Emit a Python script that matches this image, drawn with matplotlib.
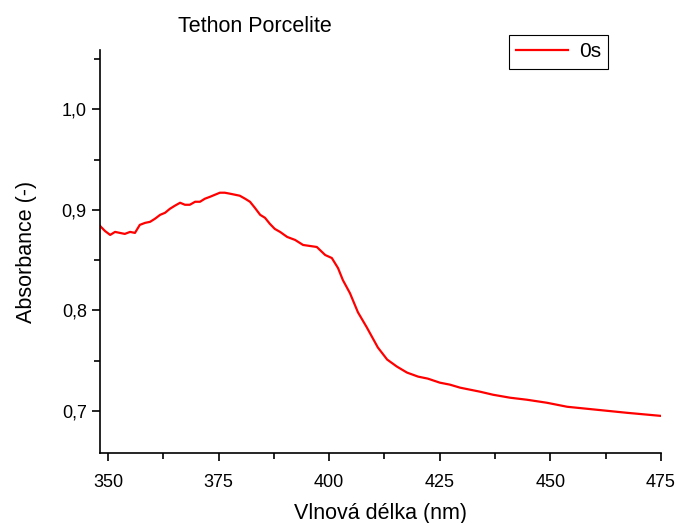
import matplotlib

matplotlib.use("Agg")
import matplotlib.pyplot as plt
from matplotlib.ticker import FuncFormatter, MultipleLocator

plt.rcParams["font.family"] = ["Liberation Sans", "DejaVu Sans"]

# spectrum
wavelength = [
    348.2, 349.3, 350.5, 351.6, 352.7, 353.8, 355.0, 356.1, 357.2, 358.4,
    359.5, 360.6, 361.8, 362.9, 364.0, 365.1, 366.3, 367.4, 368.5, 369.7,
    370.8, 371.9, 373.1, 374.2, 375.3, 376.4, 377.6, 378.7, 379.8, 381.0,
    382.1, 383.2, 384.4, 385.5, 386.6, 387.7, 388.9, 390.5, 392.3, 394.1,
    397.2, 399.1, 400.6, 402.0, 403.1, 404.7, 406.5, 408.5, 411.0, 413.1,
    415.3, 417.6, 420.1, 422.3, 425.0, 427.3, 429.6, 434.1, 437.0, 440.9,
    444.7, 449.2, 453.8, 458.3, 462.8, 467.3, 474.8,
]
absorbance = [
    0.884, 0.879, 0.875, 0.878, 0.877, 0.876, 0.878, 0.877, 0.885, 0.887,
    0.888, 0.891, 0.895, 0.897, 0.901, 0.904, 0.907, 0.905, 0.905, 0.908,
    0.908, 0.911, 0.913, 0.915, 0.917, 0.917, 0.916, 0.915, 0.914, 0.911,
    0.908, 0.902, 0.895, 0.892, 0.886, 0.881, 0.878, 0.873, 0.870, 0.865,
    0.863, 0.855, 0.852, 0.842, 0.830, 0.817, 0.798, 0.783, 0.763, 0.751,
    0.744, 0.738, 0.734, 0.732, 0.728, 0.726, 0.723, 0.719, 0.716, 0.713,
    0.711, 0.708, 0.704, 0.702, 0.700, 0.698, 0.695,
]
series_label = "0s"

fig = plt.figure(figsize=(6.76, 5.23), dpi=100)
ax = fig.add_axes([100 / 676, 70 / 523, 561 / 676, 403 / 523])

ax.plot(wavelength, absorbance, color="#FF0000", linewidth=1.6, label=series_label)

ax.set_xlim(348.2, 475)
ax.set_ylim(0.658, 1.059)
ax.xaxis.set_major_locator(MultipleLocator(25))
ax.xaxis.set_minor_locator(MultipleLocator(12.5))
ax.yaxis.set_major_locator(MultipleLocator(0.1))
ax.yaxis.set_minor_locator(MultipleLocator(0.05))
ax.yaxis.set_major_formatter(FuncFormatter(lambda v, _: f"{v:.1f}".replace(".", ",")))

for side in ("top", "right"):
    ax.spines[side].set_visible(False)
for spine in ax.spines.values():
    spine.set_linewidth(1.2)
ax.tick_params(which="major", direction="out", length=6, width=1.2, labelsize=13)
ax.tick_params(which="minor", direction="out", length=4, width=1.2)
ax.tick_params(axis="x", which="major", pad=9)

ax.set_xlabel("Vlnová délka (nm)", fontsize=15.5, labelpad=9)
ax.set_ylabel("Absorbance (-)", fontsize=15.5, labelpad=18)
fig.text(255 / 676, 1 - 27 / 523, "Tethon Porcelite", ha="center", va="center", fontsize=15.5)

leg = ax.legend(
    loc="upper left",
    bbox_to_anchor=(509 / 676, 1 - 35 / 523),
    bbox_transform=fig.transFigure,
    borderaxespad=0,
    fontsize=15,
    fancybox=False,
    handlelength=2.5,
    handletextpad=0.5,
    borderpad=0.35,
    framealpha=1,
)
leg.get_frame().set_edgecolor("black")
leg.get_frame().set_linewidth(0.8)

fig.savefig("out.png", dpi=100)
